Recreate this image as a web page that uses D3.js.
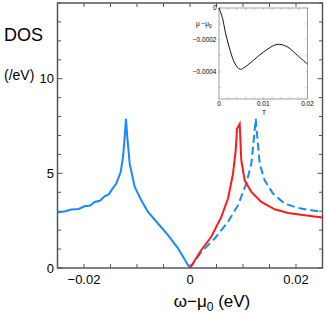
<!DOCTYPE html>
<html>
<head>
<meta charset="utf-8">
<script src="https://cdn.jsdelivr.net/npm/d3@7"></script>
<style>
  body { margin: 0; background: #fff; }
  svg { display: block; font-family: "Liberation Sans", Arial, sans-serif; }
</style>
</head>
<body>
<div id="chart"></div>
<script>
// donnees
const blueLeftX = [-0.025, -0.0235, -0.0224, -0.021, -0.0199, -0.0188, -0.018, -0.017, -0.0161, -0.0153, -0.01485, -0.0139, -0.01308, -0.01264, -0.01232, -0.01208, -0.01183, -0.01138, -0.01043, -0.00919, -0.00792, -0.00604, -0.00415, -0.00226, -0.0002, 0];
const blueLeftY = [2.93, 3.0, 3.09, 3.12, 3.26, 3.3, 3.49, 3.55, 3.79, 3.9, 4.1, 4.46, 5.07, 5.86, 6.91, 7.88, 6.91, 5.51, 4.28, 3.58, 2.96, 2.35, 1.74, 1.04, 0.07, 0];

const redX = [0, 0.00213, 0.00402, 0.00591, 0.00717, 0.00811, 0.00862, 0.00887, 0.00938, 0.00968, 0.01032, 0.01157, 0.01345, 0.01598, 0.01849, 0.02164, 0.025];
const redY = [0, 0.95, 1.65, 2.7, 3.67, 4.98, 6.21, 7.35, 7.61, 5.68, 4.63, 4.02, 3.49, 3.1, 2.91, 2.79, 2.67];

const dashX = [0, 0.00213, 0.00466, 0.00717, 0.00906, 0.01062, 0.01157, 0.01208, 0.0124, 0.0127, 0.01315, 0.01409, 0.01566, 0.01787, 0.02038, 0.02289, 0.025];
const dashY = [0, 0.85, 1.56, 2.44, 3.32, 4.46, 5.51, 6.91, 7.88, 6.91, 5.51, 4.63, 3.93, 3.4, 3.17, 3.05, 2.96];

// encart : mu - mu0 en fonction de T
const insetT = [0, 0.0008, 0.0015, 0.0025, 0.0036, 0.0048, 0.0059, 0.0078, 0.0101, 0.0131, 0.0154, 0.0177, 0.02];
const insetMu = [0, -0.000065, -0.00016, -0.000264, -0.000348, -0.000384, -0.000369, -0.000327, -0.000275, -0.000228, -0.000243, -0.000296, -0.000352];

const xTickLabels = [-0.02, 0, 0.02];
const yTickLabels = [0, 5, 10];
const insetXTicks = [0, 0.01, 0.02];
const insetYTicks = [0, -0.0002, -0.0004];

const width = 327;
const height = 318;
const m = { left: 57.5, right: 322.5, top: 3, bottom: 268 };

const svg = d3.select("#chart").append("svg").attr("width", width).attr("height", height);

const x = d3.scaleLinear().domain([-0.025, 0.025]).range([m.left, m.right]);
const y = d3.scaleLinear().domain([0, 14]).range([m.bottom, m.top]);

const line = d3.line().x((d) => x(d[0])).y((d) => y(d[1]));

const axisColor = "#555";

// ticks principaux
const xMinor = d3.range(-0.025, 0.0251, 0.005);
const yMinor = d3.range(0, 15, 1);

const ticks = svg.append("g").attr("stroke", axisColor).attr("stroke-width", 1);
xMinor.forEach((v) => {
  ticks.append("line").attr("x1", x(v)).attr("x2", x(v)).attr("y1", m.bottom).attr("y2", m.bottom - 4);
  ticks.append("line").attr("x1", x(v)).attr("x2", x(v)).attr("y1", m.top).attr("y2", m.top + 4);
});
yMinor.forEach((v) => {
  const len = v % 5 === 0 ? 5 : 3.5;
  ticks.append("line").attr("x1", m.left).attr("x2", m.left + len).attr("y1", y(v)).attr("y2", y(v));
  ticks.append("line").attr("x1", m.right).attr("x2", m.right - len).attr("y1", y(v)).attr("y2", y(v));
});

// cadre
svg.append("rect")
  .attr("x", m.left).attr("y", m.top)
  .attr("width", m.right - m.left).attr("height", m.bottom - m.top)
  .attr("fill", "none").attr("stroke", axisColor).attr("stroke-width", 1.5);

// etiquettes des axes
svg.selectAll(".xl").data(xTickLabels).enter().append("text")
  .attr("x", (d) => x(d)).attr("y", 284)
  .attr("text-anchor", "middle").attr("font-size", 13)
  .text((d) => (d === 0 ? "0" : d3.format(".2f")(d).replace("-", "\u2212")));

svg.selectAll(".yl").data(yTickLabels).enter().append("text")
  .attr("x", 54).attr("y", (d) => y(d) + 4.5)
  .attr("text-anchor", "end").attr("font-size", 13)
  .text((d) => d);

svg.append("text").attr("x", 4).attr("y", 41).attr("font-size", 18).text("DOS");
svg.append("text").attr("x", 4).attr("y", 80).attr("font-size", 14).text("(/eV)");

const xt = svg.append("text").attr("x", 212).attr("y", 307)
  .attr("text-anchor", "middle").attr("font-size", 17);
xt.append("tspan").text("\u03c9\u2212\u03bc");
xt.append("tspan").attr("font-size", 12).attr("dy", 4).text("0");
xt.append("tspan").attr("dy", -4).text(" (eV)");

// courbes
svg.append("path").datum(d3.zip(blueLeftX, blueLeftY)).attr("d", line)
  .attr("fill", "none").attr("stroke", "#168aff").attr("stroke-width", 2);
svg.append("path").datum(d3.zip(dashX, dashY)).attr("d", line)
  .attr("fill", "none").attr("stroke", "#168aff").attr("stroke-width", 2)
  .attr("stroke-dasharray", "8,4");
svg.append("path").datum(d3.zip(redX, redY)).attr("d", line)
  .attr("fill", "none").attr("stroke", "#ff1a1a").attr("stroke-width", 2);

// encart
const ix = d3.scaleLinear().domain([0, 0.02]).range([219, 307.5]);
const iy = d3.scaleLinear().domain([-0.00057, 0]).range([99, 8]);

const inset = svg.append("g");
inset.append("rect").attr("x", 219).attr("y", 8).attr("width", 88.5).attr("height", 91)
  .attr("fill", "#fff").attr("stroke", "#888").attr("stroke-width", 0.8);

d3.range(0, 0.0201, 0.002).forEach((v) => {
  inset.append("line").attr("x1", ix(v)).attr("x2", ix(v)).attr("y1", 99).attr("y2", 97)
    .attr("stroke", "#999").attr("stroke-width", 0.6);
  inset.append("line").attr("x1", ix(v)).attr("x2", ix(v)).attr("y1", 8).attr("y2", 10)
    .attr("stroke", "#999").attr("stroke-width", 0.6);
});
d3.range(0, -0.00056, -0.0001).forEach((v) => {
  inset.append("line").attr("x1", 219).attr("x2", 221).attr("y1", iy(v)).attr("y2", iy(v))
    .attr("stroke", "#999").attr("stroke-width", 0.6);
  inset.append("line").attr("x1", 307.5).attr("x2", 305.5).attr("y1", iy(v)).attr("y2", iy(v))
    .attr("stroke", "#999").attr("stroke-width", 0.6);
});

inset.selectAll(".ixl").data(insetXTicks).enter().append("text")
  .attr("x", (d) => ix(d)).attr("y", 106)
  .attr("text-anchor", "middle").attr("font-size", 6.5)
  .text((d) => (d === 0 ? "0" : d));
inset.selectAll(".iyl").data(insetYTicks).enter().append("text")
  .attr("x", 216.5).attr("y", (d) => iy(d) + 2.3)
  .attr("text-anchor", "end").attr("font-size", 6.5)
  .text((d) => (d === 0 ? "0" : d3.format(".4f")(d).replace("-", "\u2212")));
inset.append("text").attr("x", 264).attr("y", 115).attr("text-anchor", "middle")
  .attr("font-size", 6.5).text("T");
const ml = inset.append("text").attr("x", 196).attr("y", 26).attr("font-size", 6.5);
ml.append("tspan").text("\u03bc \u2212\u03bc");
ml.append("tspan").attr("font-size", 5).attr("dy", 1.5).text("0");

inset.append("path").datum(d3.zip(insetT, insetMu))
  .attr("d", d3.line().curve(d3.curveCatmullRom).x((d) => ix(d[0])).y((d) => iy(d[1])))
  .attr("fill", "none").attr("stroke", "#111").attr("stroke-width", 1);
</script>
</body>
</html>
